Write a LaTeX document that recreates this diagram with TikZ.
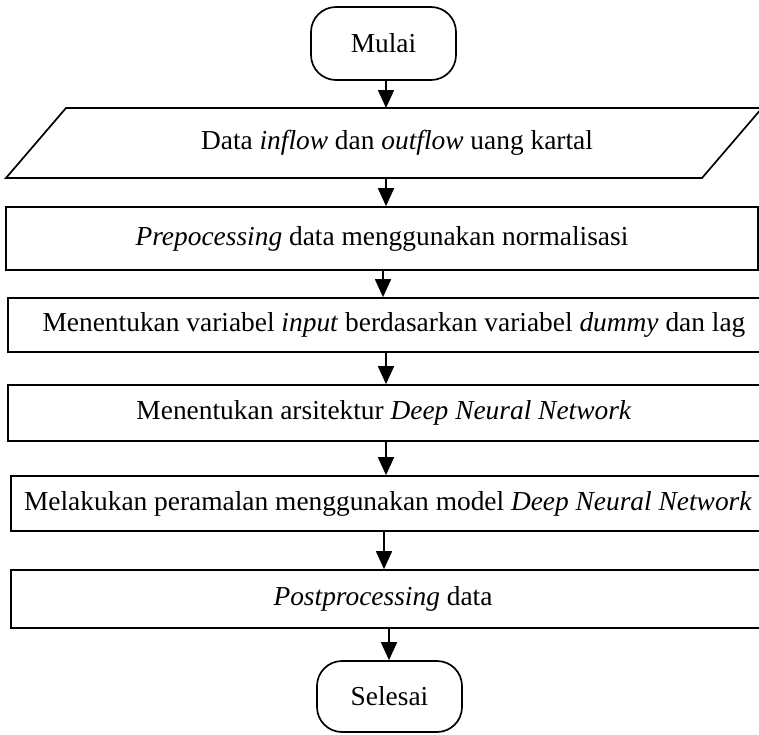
\documentclass[tikz,border=0pt]{standalone}
\usepackage{fontspec}
\setmainfont{Liberation Serif}
\usetikzlibrary{arrows.meta}
\begin{document}
\begin{tikzpicture}[x=1pt,y=-1pt,
  line width=1.7pt,
  font=\fontsize{27.4}{32}\selectfont,
  arr/.style={-{Triangle[length=18pt,width=16pt]}},
  term/.style={draw,rounded corners=25pt,inner sep=0pt},
  procbox/.style={draw,inner sep=0pt},
  txt/.style={inner sep=0pt}]
\useasboundingbox (0,0) rectangle (759,734);
% terminators
\node[term,minimum width=145pt,minimum height=73pt] (start) at (383.5,43.5) {Mulai};
% parallelogram (input/output)
\coordinate (pTL) at (66,108);
\coordinate (pTR) at (762,108);
\coordinate (pBR) at (702,178);
\coordinate (pBL) at (6,178);
\draw (pTL) -- (pTR) -- (pBR) -- (pBL) -- cycle;
\node[txt,minimum height=70pt] (data) at (397,143) {Data \textit{inflow} dan \textit{outflow} uang kartal};
% process boxes
\node[procbox,minimum width=752pt,minimum height=63pt] (pre) at (382,238.5) {};
\node[txt] at (382,238.5) {\textit{Prepocessing} data menggunakan normalisasi};
\node[procbox,minimum width=757pt,minimum height=54pt] (var) at (386.5,325) {};
\node[txt] at (394,325) {Menentukan variabel \textit{input} berdasarkan variabel \textit{dummy} dan lag};
\node[procbox,minimum width=757pt,minimum height=56pt] (arch) at (386.5,413) {};
\node[txt] at (384,413) {Menentukan arsitektur \textit{Deep Neural Network}};
\node[procbox,minimum width=754pt,minimum height=55pt] (fore) at (388,503.5) {};
\node[txt] at (388,503.5) {Melakukan peramalan menggunakan model \textit{Deep Neural Network}};
\node[procbox,minimum width=754pt,minimum height=58pt] (post) at (388,599) {};
\node[txt] at (383,599) {\textit{Postprocessing} data};
\node[term,minimum width=145pt,minimum height=71pt] (stop) at (389.5,696.5) {Selesai};
% connectors
\draw[arr] (start.south -| 386,0) -- (pTL -| 386,0);
\draw[arr] (pBL -| 386,0) -- (pre.north -| 386,0);
\draw[arr] (pre.south -| 383,0) -- (var.north -| 383,0);
\draw[arr] (var.south -| 386,0) -- (arch.north -| 386,0);
\draw[arr] (arch.south -| 386,0) -- (fore.north -| 386,0);
\draw[arr] (fore.south -| 384,0) -- (post.north -| 384,0);
\draw[arr] (post.south -| 389,0) -- (stop.north -| 389,0);
\end{tikzpicture}
\end{document}
